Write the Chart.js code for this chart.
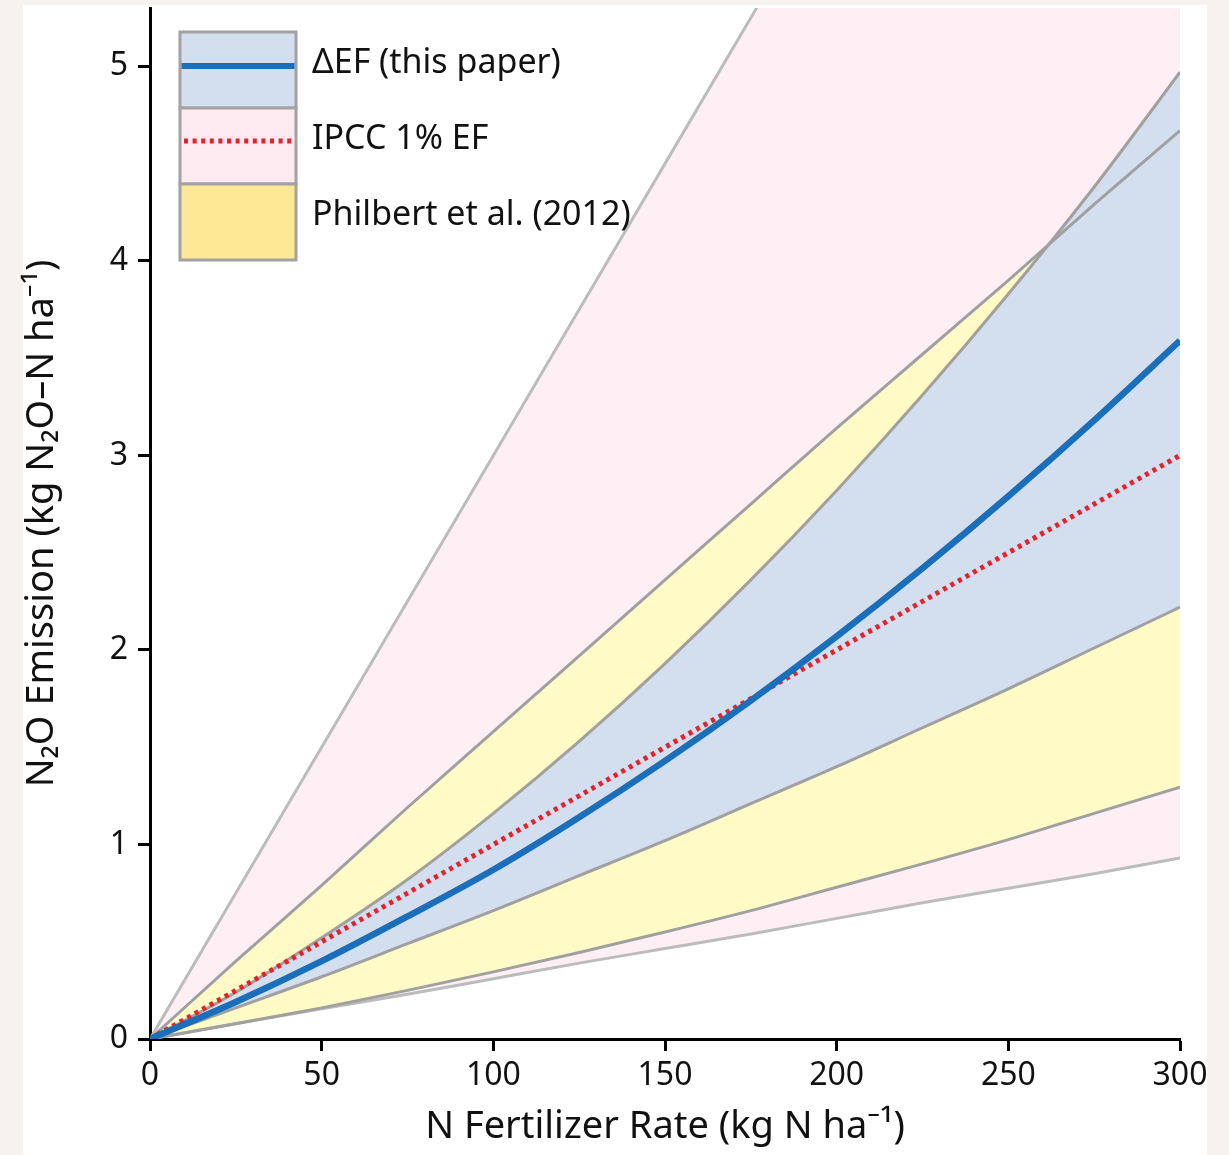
<!DOCTYPE html>
<html>
<head>
<meta charset="utf-8">
<title>N2O emission vs N fertilizer rate</title>
<script src="https://cdn.jsdelivr.net/npm/chart.js@4.4.1/dist/chart.umd.min.js"></script>
<style>
  html, body { margin: 0; padding: 0; background: #f6f3ef; }
  #card { position: absolute; left: 23px; top: 5px; width: 1184px; height: 1150px; background: #fff; }
  #wrap { position: absolute; left: 0; top: 0; width: 1229px; height: 1155px; }
</style>
</head>
<body>
<div id="card"></div>
<div id="wrap"><canvas id="emisChart" width="1229" height="1155"></canvas></div>
<script>
// N fertilizer rate (kg N ha-1)
const nRate = [0, 25, 50, 75, 100, 125, 150, 175, 200, 225, 250, 275, 300];

// delta EF response (this paper): mean and band
const dEfMean  = [0, 0.19, 0.40, 0.63, 0.87, 1.14, 1.43, 1.74, 2.07, 2.42, 2.79, 3.18, 3.59];
const dEfUpper = [0, 0.24, 0.52, 0.82, 1.16, 1.53, 1.93, 2.36, 2.82, 3.31, 3.83, 4.38, 4.97];
const dEfLower = [0, 0.16, 0.32, 0.49, 0.66, 0.84, 1.02, 1.21, 1.40, 1.60, 1.80, 2.01, 2.22];

// IPCC 1% EF with its uncertainty range
const ipccMean  = [0, 0.25, 0.50, 0.75, 1.00, 1.25, 1.50, 1.75, 2.00, 2.25, 2.50, 2.75, 3.00];
const ipccUpper = [0, 0.75, 1.50, 2.25, 3.00, 3.75, 4.50, 5.25, 6.00, 6.75, 7.50, 8.25, 9.00];
const ipccLower = [0, 0.08, 0.155, 0.23, 0.31, 0.39, 0.465, 0.54, 0.62, 0.70, 0.775, 0.85, 0.93];

// Philbert et al. (2012) range
const philUpper = [0, 0.40, 0.79, 1.19, 1.58, 1.97, 2.36, 2.75, 3.14, 3.52, 3.90, 4.29, 4.67];
const philLower = [0, 0.078, 0.16, 0.25, 0.345, 0.445, 0.55, 0.66, 0.78, 0.90, 1.025, 1.16, 1.295];

const xTicks = [0, 50, 100, 150, 200, 250, 300];
const yTicks = [0, 1, 2, 3, 4, 5];
const legendNames = ['\u0394EF (this paper)', 'IPCC 1% EF', 'Philbert et al. (2012)'];

const FONT = "'Noto Sans', 'Open Sans', sans-serif";
const blueFill = '#d3deef';
const pinkFill = '#fdeff4';
const yellowFill = '#fffac6';
const edgeGray = '#a0a0a0';
const outerGray = '#bcbcbc';

function pts(vals) {
    return nRate.map((n, i) => ({ x: n, y: vals[i] }));
}

function edge(label, vals, color, order, fill) {
    return {
        label: label,
        data: pts(vals),
        borderColor: color,
        borderWidth: 3,
        pointRadius: 0,
        cubicInterpolationMode: 'monotone',
        fill: fill || false,
        order: order
    };
}

// boxes + samples drawn in the upper-left corner
const legendBoxes = {
    id: 'legendBoxes',
    afterDraw(chart) {
        const ctx = chart.ctx;
        const area = chart.chartArea;
        const left = area.left + 30;
        const w = 116;
        const h = 76;
        const top = area.top + 24;
        const fills = [blueFill, '#fde9f0', '#fde995'];

        ctx.save();
        fills.forEach((c, i) => {
            const y = top + i * h;
            ctx.fillStyle = c;
            ctx.fillRect(left, y, w, h);
            ctx.strokeStyle = '#a2a2a2';
            ctx.lineWidth = 3;
            ctx.strokeRect(left, y, w, h);
        });

        // mean line sample
        ctx.beginPath();
        ctx.strokeStyle = '#1b6fba';
        ctx.lineWidth = 6;
        ctx.moveTo(left + 1.5, top + 34);
        ctx.lineTo(left + w - 1.5, top + 34);
        ctx.stroke();

        // dotted IPCC sample
        ctx.beginPath();
        ctx.strokeStyle = '#e3222b';
        ctx.lineWidth = 5;
        ctx.setLineDash([4, 4.6]);
        ctx.moveTo(left + 4, top + h + 33);
        ctx.lineTo(left + w - 1.5, top + h + 33);
        ctx.stroke();
        ctx.setLineDash([]);

        ctx.fillStyle = '#111';
        ctx.font = '34px ' + FONT;
        ctx.textAlign = 'left';
        ctx.textBaseline = 'middle';
        legendNames.forEach((t, i) => {
            ctx.fillText(t, left + w + 16, top + i * h + h / 2 - 7);
        });
        ctx.restore();
    }
};

const ctx = document.getElementById('emisChart').getContext('2d');
new Chart(ctx, {
    type: 'line',
    data: {
        datasets: [
            {
                label: 'dEF mean',
                data: pts(dEfMean),
                borderColor: '#1b6fba',
                borderWidth: 6.5,
                pointRadius: 0,
                cubicInterpolationMode: 'monotone',
                fill: false,
                order: 0
            },
            {
                label: 'IPCC 1%',
                data: pts(ipccMean),
                borderColor: '#e3222b',
                borderWidth: 5,
                borderDash: [4, 4.6],
                pointRadius: 0,
                fill: false,
                order: 1
            },
            edge('dEF upper', dEfUpper, edgeGray, 2, { target: 3, above: blueFill, below: blueFill }),
            edge('dEF lower', dEfLower, edgeGray, 3),
            edge('Philbert upper', philUpper, edgeGray, 4, { target: 5, above: yellowFill, below: yellowFill }),
            edge('Philbert lower', philLower, edgeGray, 5),
            edge('IPCC upper', ipccUpper, outerGray, 6, { target: 7, above: pinkFill, below: pinkFill }),
            edge('IPCC lower', ipccLower, outerGray, 7)
        ]
    },
    options: {
        responsive: false,
        animation: false,
        layout: { padding: { top: 8, right: 49, left: 0, bottom: 0 } },
        plugins: {
            legend: { display: false },
            tooltip: { enabled: false },
            filler: { drawTime: 'beforeDatasetsDraw' }
        },
        scales: {
            x: {
                type: 'linear',
                min: 0,
                max: 300,
                afterFit(s) { s.height = 116; s.paddingLeft = 0; s.paddingRight = 0; },
                afterBuildTicks(s) { s.ticks = xTicks.map(v => ({ value: v })); },
                grid: { drawOnChartArea: false, tickLength: 12, tickWidth: 3, tickColor: '#000' },
                border: { color: '#000', width: 3 },
                ticks: { color: '#111', font: { family: FONT, size: 32 }, padding: 6, maxRotation: 0 },
                title: {
                    display: true,
                    text: 'N Fertilizer Rate (kg N ha\u207B\u00B9)',
                    color: '#111',
                    font: { family: FONT, size: 38 },
                    padding: { top: 0, bottom: 5 }
                }
            },
            y: {
                type: 'linear',
                min: 0,
                max: 5.3,
                afterFit(s) { s.width = 150; s.paddingTop = 0; s.paddingBottom = 0; },
                afterBuildTicks(s) { s.ticks = yTicks.map(v => ({ value: v })); },
                grid: { drawOnChartArea: false, tickLength: 12, tickWidth: 3, tickColor: '#000' },
                border: { color: '#000', width: 3 },
                ticks: { color: '#111', font: { family: FONT, size: 32 }, padding: 10 },
                title: {
                    display: true,
                    text: 'N\u2082O Emission (kg N\u2082O\u2013N ha\u207B\u00B9)',
                    color: '#111',
                    font: { family: FONT, size: 38 },
                    padding: { top: 19, bottom: 0 }
                }
            }
        }
    },
    plugins: [legendBoxes]
});
</script>
</body>
</html>
